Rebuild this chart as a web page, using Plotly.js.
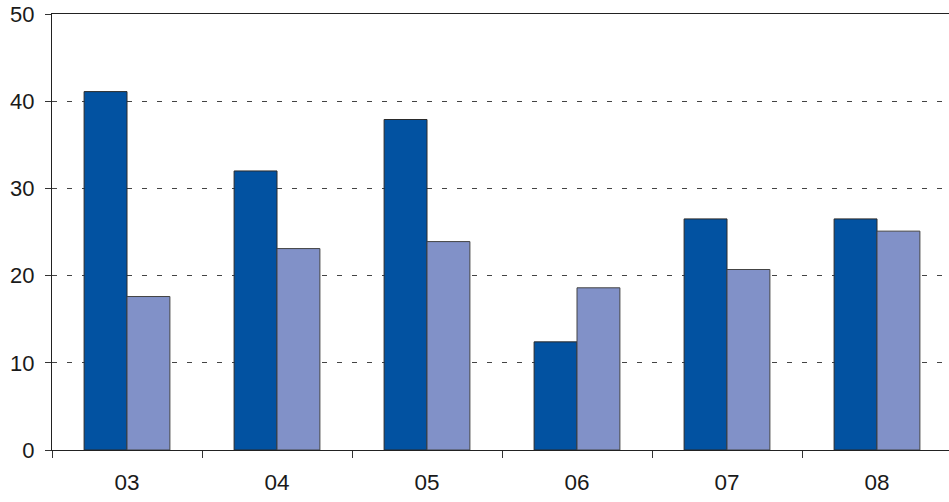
<!DOCTYPE html>
<html>
<head>
<meta charset="utf-8">
<script src="https://cdn.plot.ly/plotly-3.0.1.min.js"></script>
<style>html,body{margin:0;padding:0;background:#fff;}#chart{width:949px;height:502px;}</style>
</head>
<body>
<div id="chart"></div>
<script>
const categories = ["03", "04", "05", "06", "07", "08"];
const seriesA = [41.1, 32.0, 37.9, 12.4, 26.5, 26.5];
const seriesB = [17.6, 23.1, 23.9, 18.6, 20.7, 25.1];
const yTicks = [0, 10, 20, 30, 40, 50];

const font = {family: "Liberation Sans, Arial, Helvetica, sans-serif", color: "#1a1a1a"};

const data = [
  {type: "bar", x: categories, y: seriesA, name: "A",
   marker: {color: "#0252a1", line: {color: "#2a2a2a", width: 1}}},
  {type: "bar", x: categories, y: seriesB, name: "B",
   marker: {color: "#8191c8", line: {color: "#444", width: 1}}}
];

const layout = {
  width: 949, height: 502,
  margin: {l: 52, r: 0, t: 14, b: 52},
  paper_bgcolor: "#fff", plot_bgcolor: "#fff",
  showlegend: false,
  barmode: "group", bargap: 0.428, bargroupgap: 0,
  font: font,
  xaxis: {
    type: "category", range: [-0.5, 5.48],
    showgrid: false, showline: true, linecolor: "#222", linewidth: 1, mirror: true,
    ticks: "outside", tickson: "boundaries", ticklen: 7, tickcolor: "#333", tickwidth: 1,
    tickfont: {size: 22.5, family: font.family, color: "#1a1a1a"},
    ticklabelstandoff: 12
  },
  yaxis: {
    range: [0, 50], tickvals: yTicks, ticktext: yTicks.map(String),
    showline: true, linecolor: "#222", linewidth: 1,
    ticks: "outside", ticklen: 6, tickcolor: "#333",
    showgrid: true, gridcolor: "#444", gridwidth: 1, griddash: "5px,10px",
    zeroline: false,
    tickfont: {size: 22, family: font.family, color: "#1a1a1a"},
    ticklabelstandoff: 6
  }
};

Plotly.newPlot("chart", data, layout, {staticPlot: true});
</script>
</body>
</html>
